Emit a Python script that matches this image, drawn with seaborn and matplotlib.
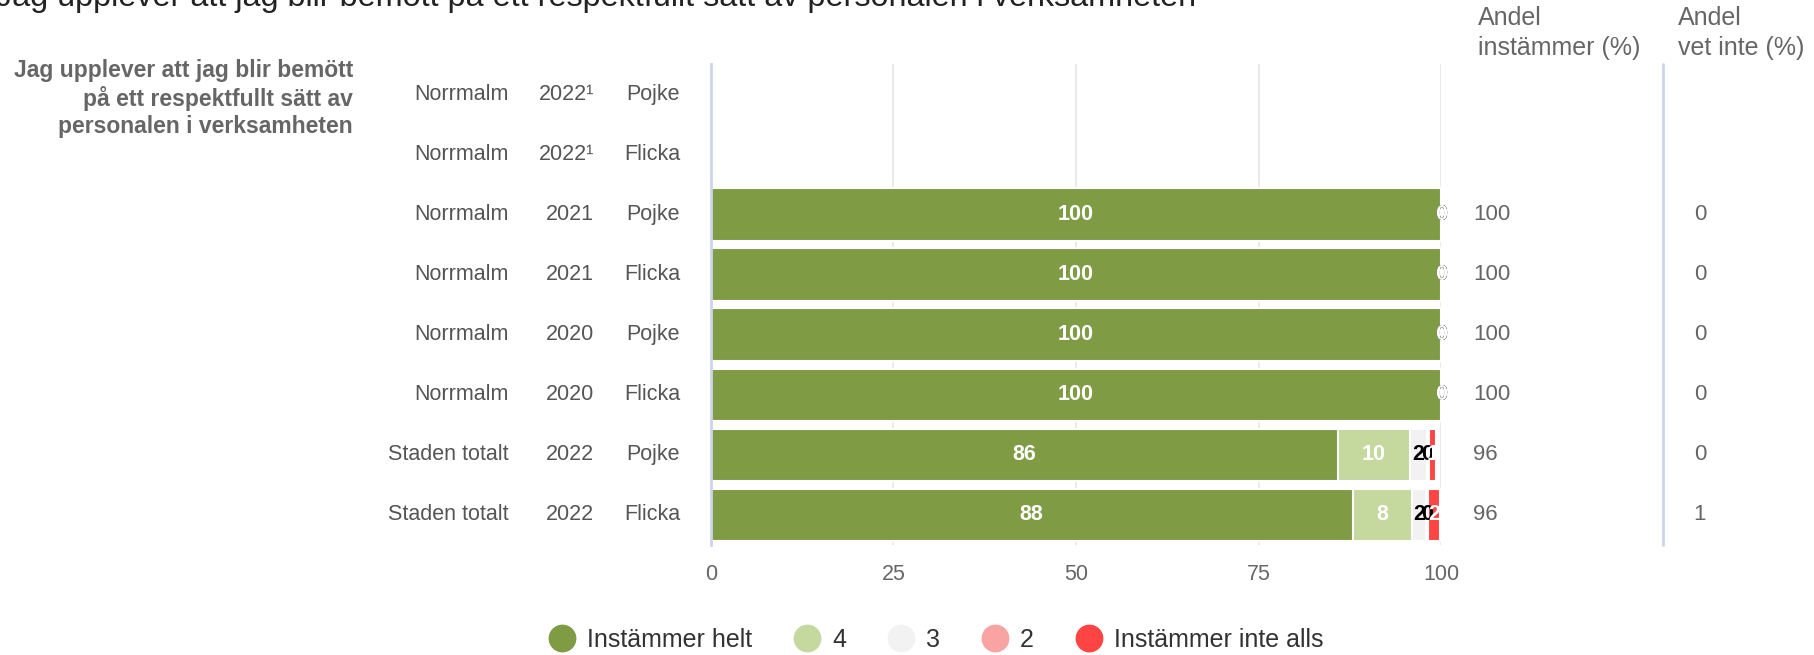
import numpy as np
import pandas as pd
import matplotlib
matplotlib.use("Agg")
import matplotlib.pyplot as plt
import matplotlib.transforms as mtransforms
from matplotlib.lines import Line2D
import seaborn as sns

# Data
areas = ["Norrmalm", "Norrmalm", "Norrmalm", "Norrmalm", "Norrmalm", "Norrmalm",
         "Staden totalt", "Staden totalt"]
years = ["2022¹", "2022¹", "2021", "2021", "2020", "2020", "2022", "2022"]
genders = ["Pojke", "Flicka", "Pojke", "Flicka", "Pojke", "Flicka", "Pojke", "Flicka"]

helt = [np.nan, np.nan, 100, 100, 100, 100, 85.9, 87.9]
fyra = [np.nan, np.nan, 0, 0, 0, 0, 9.8, 8.1]
tre = [np.nan, np.nan, 0, 0, 0, 0, 2.3, 1.9]
tva = [np.nan, np.nan, 0, 0, 0, 0, 0.3, 0.3]
inte_alls = [np.nan, np.nan, 0, 0, 0, 0, 1.0, 1.6]

andel_instammer = ["", "", "100", "100", "100", "100", "96", "96"]
andel_vet_inte = ["", "", "0", "0", "0", "0", "0", "1"]

series_names = ["Instämmer helt", "4", "3", "2", "Instämmer inte alls"]
colors = ["#7f9c44", "#c5d89e", "#f2f2f2", "#f9a3a3", "#ff4444"]
label_colors = ["white", "white", "black", "black", "white"]

title = "Jag upplever att jag blir bemött på ett respektfullt sätt av personalen i verksamheten"
question = "Jag upplever att jag blir bemött\npå ett respektfullt sätt av\npersonalen i verksamheten"

sns.set_theme(style="white")
plt.rcParams["font.family"] = ["Liberation Sans", "DejaVu Sans"]

rows = [f"{a} {y} {g}" for a, y, g in zip(areas, years, genders)]
df = pd.DataFrame({"row": rows, "helt": helt, "fyra": fyra, "tre": tre,
                   "tva": tva, "inte": inte_alls})
cols = ["helt", "fyra", "tre", "tva", "inte"]
cum = df[cols].cumsum(axis=1)

fig = plt.figure(figsize=(18.15, 6.55), dpi=100)
ax = fig.add_axes([0.3916, 0.168, 0.4024, 0.734])

# stacked bars: draw cumulative totals from largest to smallest
for i in range(len(cols) - 1, -1, -1):
    d = pd.DataFrame({"row": rows, "val": cum[cols[i]]})
    sns.barplot(data=d, x="val", y="row", order=rows, orient="h", color=colors[i],
                saturation=1, width=0.87, errorbar=None, edgecolor="white",
                linewidth=1.5, ax=ax, zorder=2)

# segment labels
for r in range(len(rows)):
    for i, c in enumerate(cols):
        v = df.loc[r, c]
        if np.isnan(v):
            continue
        start = cum.loc[r, c] - v
        ax.text(start + v / 2, r, f"{v:.0f}", ha="center", va="center",
                color=label_colors[i], fontsize=15.5, fontweight="bold", zorder=5)

ax.set_xlim(0, 100)
ax.set_ylim(len(rows) - 0.5, -0.5)
ax.set_xticks([0, 25, 50, 75, 100])
ax.set_xticklabels(["0", "25", "50", "75", "100"])
ax.tick_params(axis="x", colors="#666666", labelsize=15.5, length=0, pad=14)
ax.set_yticks(np.arange(-0.5, len(rows), 1.0))
ax.set_yticklabels([])
ax.tick_params(axis="y", length=17, width=2, color="#ccd6eb", direction="out")
ax.set_xlabel("")
ax.set_ylabel("")
ax.grid(axis="x", color="#e6e6e6", linewidth=1.2, zorder=0)
ax.set_axisbelow(True)
for s in ["top", "right", "bottom"]:
    ax.spines[s].set_visible(False)
ax.spines["left"].set_color("#ccd6eb")
ax.spines["left"].set_linewidth(2)

# row labels in three columns
trans = mtransforms.blended_transform_factory(fig.transFigure, ax.transData)
for r in range(len(rows)):
    ax.text(509 / 1815, r, areas[r], transform=trans, ha="right", va="center",
            fontsize=15.5, color="#555555")
    ax.text(594 / 1815, r, years[r], transform=trans, ha="right", va="center",
            fontsize=15.5, color="#555555")
    ax.text(680 / 1815, r, genders[r], transform=trans, ha="right", va="center",
            fontsize=15.5, color="#555555")
    ax.text(1473 / 1815, r, andel_instammer[r], transform=trans, ha="left", va="center",
            fontsize=16, color="#666666")
    ax.text(1700 / 1815, r, andel_vet_inte[r], transform=trans, ha="center", va="center",
            fontsize=16, color="#666666")

# divider before "vet inte" column
fig.add_artist(Line2D([1663 / 1815, 1663 / 1815], [0.168, 0.902], transform=fig.transFigure,
                      color="#ccd6eb", linewidth=2))

# column headers
fig.text(1478 / 1815, 1 - 6 / 655, "Andel\ninstämmer (%)", ha="left", va="top",
         fontsize=18, color="#666666", linespacing=1.3)
fig.text(1678 / 1815, 1 - 6 / 655, "Andel\nvet inte (%)", ha="left", va="top",
         fontsize=18, color="#666666", linespacing=1.3)

# question text at left
fig.text(353 / 1815, 1 - 59 / 655, question, ha="right", va="top", fontsize=16.5,
         fontweight="bold", color="#666666", linespacing=1.2)

# clipped title at top
fig.text(-0.002, 1 - 6 / 655, title, ha="left", va="baseline", fontsize=23.3,
         color="#222222")

# legend
handles = [Line2D([0], [0], marker="o", linestyle="", markersize=19,
                  markerfacecolor=c, markeredgecolor=c) for c in colors]
fig.legend(handles, series_names, loc="center", bbox_to_anchor=(0.516, 1 - 640 / 655),
           ncol=5, frameon=False, fontsize=18, handlelength=1.0, handletextpad=0.5,
           columnspacing=1.7, labelcolor="#333333")

fig.savefig("out.png", dpi=100)
